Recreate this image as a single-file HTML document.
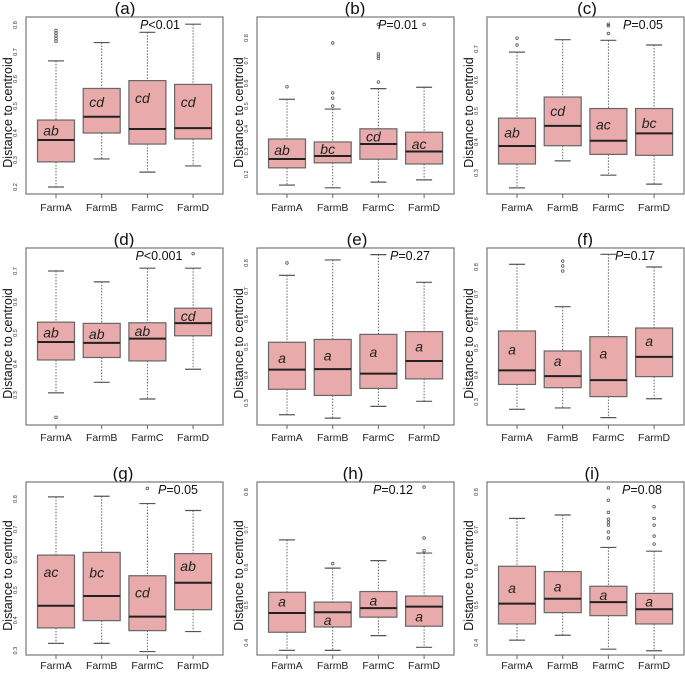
<!DOCTYPE html>
<html><head><meta charset="utf-8"><style>
html,body{margin:0;padding:0;background:#fff;}
svg{display:block;font-family:"Liberation Sans",sans-serif;}
</style></head><body>
<svg id="chart" width="685" height="673" viewBox="0 0 685 673" xmlns="http://www.w3.org/2000/svg"></svg>
<script>
const panelTitles = ["(a)","(b)","(c)","(d)","(e)","(f)","(g)","(h)","(i)"];
const categories = ["FarmA","FarmB","FarmC","FarmD"];
const whiskerLow = [
 [0.200,0.304,0.255,0.278],[0.152,0.140,0.165,0.175],[0.252,0.339,0.293,0.264],
 [0.307,0.341,0.287,0.383],[0.258,0.246,0.288,0.306],[0.273,0.278,0.242,0.312],
 [0.324,0.324,0.297,0.363],[0.380,0.380,0.419,0.388],[0.407,0.420,0.383,0.379]];
const quart1 = [
 [0.293,0.400,0.359,0.378],[0.228,0.250,0.266,0.245],[0.329,0.388,0.360,0.357],
 [0.413,0.421,0.410,0.491],[0.349,0.327,0.352,0.386],[0.365,0.353,0.320,0.394],
 [0.375,0.399,0.366,0.435],[0.428,0.442,0.468,0.444],[0.450,0.480,0.472,0.450]];
const medians = [
 [0.374,0.460,0.415,0.418],[0.267,0.280,0.333,0.300],[0.387,0.452,0.404,0.428],
 [0.471,0.468,0.482,0.532],[0.419,0.421,0.405,0.450],[0.417,0.396,0.381,0.467],
 [0.448,0.480,0.412,0.524],[0.479,0.481,0.492,0.496],[0.504,0.517,0.508,0.489]];
const quart3 = [
 [0.448,0.565,0.594,0.580],[0.355,0.342,0.400,0.385],[0.477,0.545,0.508,0.508],
 [0.535,0.531,0.533,0.580],[0.517,0.527,0.545,0.555],[0.563,0.489,0.542,0.574],
 [0.615,0.624,0.547,0.620],[0.534,0.508,0.536,0.524],[0.603,0.589,0.550,0.531]];
const whiskerHigh = [
 [0.667,0.735,0.773,0.803],[0.530,0.487,0.577,0.583],[0.690,0.730,0.728,0.713],
 [0.700,0.665,0.709,0.709],[0.756,0.811,0.830,0.731],[0.810,0.653,0.847,0.800],
 [0.807,0.809,0.785,0.762],[0.673,0.598,0.618,0.638],[0.730,0.739,0.653,0.643]];
const outliers = [
 [[0.74,0.75,0.76,0.77,0.78],[],[],[]],
 [[0.585],[0.50,0.535,0.558,0.778],[0.606,0.71,0.72,0.73,0.86],[0.86]],
 [[0.713,0.735],[],[0.75,0.775,0.78],[]],
 [[0.228],[],[],[0.756]],
 [[0.80],[],[],[]],
 [[],[0.785,0.804,0.822],[],[]],
 [[],[],[0.835],[]],
 [[],[0.61],[],[0.644,0.678,0.813]],
 [[],[],[0.678,0.694,0.712,0.72,0.728,0.746,0.778,0.811],[0.662,0.683,0.712,0.73,0.761]]];
const letters = [
 ["ab","cd","cd","cd"],["ab","bc","cd","ac"],["ab","cd","ac","bc"],
 ["ab","ab","ab","cd"],["a","a","a","a"],["a","a","a","a"],
 ["ac","bc","cd","ab"],["a","a","a","a"],["a","a","a","a"]];
const letterY = [
 [0.41,0.515,0.53,0.515],[0.306,0.31,0.365,0.333],[0.43,0.50,0.457,0.462],
 [0.502,0.496,0.507,0.555],[0.46,0.469,0.483,0.502],[0.495,0.452,0.48,0.526],
 [0.56,0.557,0.492,0.579],[0.51,0.46,0.512,0.47],[0.545,0.55,0.527,0.51]];
const pSign = ["<","=","=","<","=","=","=","=","="];
const pValues = ["0.01","0.01","0.05","0.001","0.27","0.17","0.05","0.12","0.08"];
const tickLabels = [
 ["0.2","0.3","0.4","0.5","0.6","0.7","0.8"],["0.2","0.3","0.4","0.5","0.6","0.7","0.8"],
 ["0.3","0.4","0.5","0.6","0.7"],["0.3","0.4","0.5","0.6","0.7"],
 ["0.3","0.4","0.5","0.6","0.7","0.8"],["0.3","0.4","0.5","0.6","0.7","0.8"],
 ["0.3","0.4","0.5","0.6","0.7","0.8"],["0.4","0.5","0.6","0.7","0.8"],["0.4","0.5","0.6","0.7","0.8"]];

// layout (not data)
const colX = [26,257,487];
const rowY = [[17,194],[248,425],[482,655]];
const labelOff = [17,16,14];
const refVal = [0.8,0.8,0.7,0.7,0.8,0.8,0.8,0.8,0.8];
const refPx = [25,38,49,271,263,267,499,492,492];
const pxPerTenth = [27,22.7,31,31,28,27,30.33,37.7,37.7];
const titleX = [125,355,587,124,357,585,123,353,592];
const pX = [160,398,643,159,410,635,178,393,642];

const NS="http://www.w3.org/2000/svg";
const svg=document.getElementById('chart');
function mk(tag,attrs,parent,text){const e=document.createElementNS(NS,tag);for(const k in attrs)e.setAttribute(k,attrs[k]);if(text!==undefined)e.textContent=text;(parent||svg).appendChild(e);return e;}

for(let p=0;p<9;p++){
  const col=p%3,row=Math.floor(p/3);
  const x0=colX[col],x1=x0+197,y0=rowY[row][0],y1=rowY[row][1];
  const yS=v=>refPx[p]+(refVal[p]-v)*pxPerTenth[p]*10;
  const xS=i=>x0+30+i*45.7;
  const g=mk('g',{});
  
  
  const t=mk('text',{x:titleX[p],y:y0-3,'font-size':17,'text-anchor':'middle',fill:'#111'},g,panelTitles[p]);
  
  
  const fr=mk('rect',{x:x0,y:y0,width:x1-x0,height:y1-y0,fill:'none',stroke:'#777','stroke-width':1.2},g);
  
  
  const yt=mk('text',{transform:`translate(${x0-14},${(y0+y1)/2+7}) rotate(-90)`,'font-size':12.5,'text-anchor':'middle',fill:'#111'},g,'Distance to centroid');
  
  
  tickLabels[p].forEach(lbl=>{
    const yy=yS(parseFloat(lbl));
    const tl=mk('text',{transform:`translate(${x0-9},${yy}) rotate(-90)`,'font-size':5.5,'text-anchor':'middle',fill:'#333'},g,lbl);
    
    
  });
  categories.forEach((c,i)=>{
    const cx=xS(i);
    mk('line',{x1:cx,x2:cx,y1:y1,y2:y1+4,stroke:'#666'},g);
    const xl=mk('text',{x:cx,y:y1+labelOff[row],'font-size':10.5,'text-anchor':'middle',fill:'#222'},g,c);
    
    
    const bg=mk('g',{},g);
    
    
    const lo=yS(whiskerLow[p][i]),hi=yS(whiskerHigh[p][i]),a=yS(quart1[p][i]),b=yS(quart3[p][i]),m=yS(medians[p][i]);
    mk('line',{x1:cx,x2:cx,y1:hi,y2:b,stroke:'#666','stroke-dasharray':'1.5,1.5'},bg);
    mk('line',{x1:cx,x2:cx,y1:a,y2:lo,stroke:'#666','stroke-dasharray':'1.5,1.5'},bg);
    mk('line',{x1:cx-8,x2:cx+8,y1:hi,y2:hi,stroke:'#555','stroke-width':1.2},bg);
    mk('line',{x1:cx-8,x2:cx+8,y1:lo,y2:lo,stroke:'#555','stroke-width':1.2},bg);
    mk('rect',{x:cx-18.5,y:b,width:37,height:a-b,fill:'#e8aaaa',stroke:'#666','stroke-width':1.2},bg);
    mk('line',{x1:cx-18.5,x2:cx+18.5,y1:m,y2:m,stroke:'#222','stroke-width':2},bg);
    outliers[p][i].forEach(v=>{mk('circle',{cx:cx,cy:yS(v),r:1.3,fill:'none',stroke:'#555','stroke-width':0.8},bg);});
    const lt=mk('text',{x:cx-5,y:yS(letterY[p][i])+5,'font-size':14,'font-style':'italic','text-anchor':'middle',fill:'#222'},bg,letters[p][i]);
    
    
  });
  const pt=mk('text',{x:pX[p],y:y0+12,'font-size':12.5,'text-anchor':'middle',fill:'#111'},g);
  
  
  mk('tspan',{'font-style':'italic'},pt,'P');
  mk('tspan',{},pt,pSign[p]+pValues[p]);
}
</script>
</body></html>
